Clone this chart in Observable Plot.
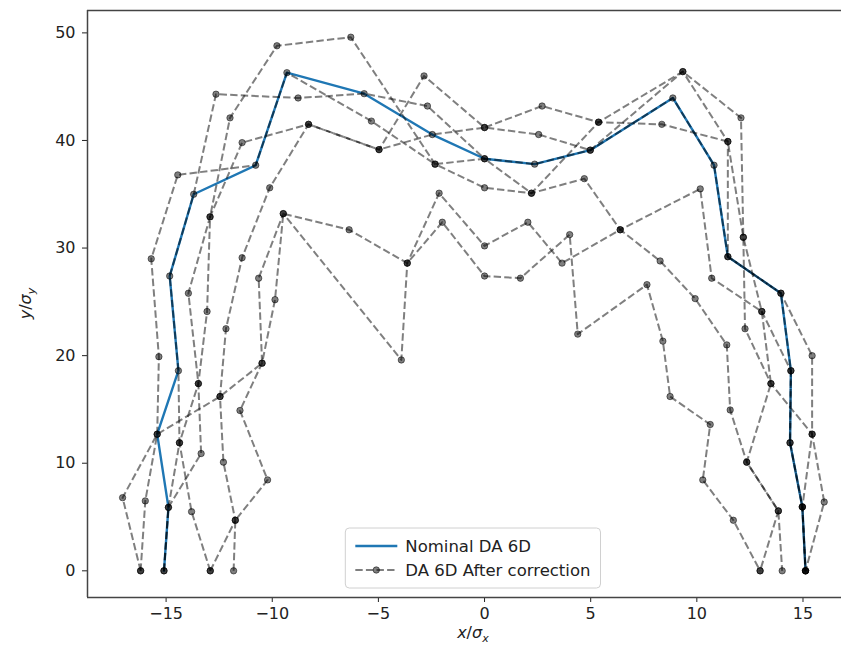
<!DOCTYPE html>
<html><head><meta charset="utf-8">
<script src="https://cdn.jsdelivr.net/npm/d3@7"></script>
<script src="https://cdn.jsdelivr.net/npm/@observablehq/plot@0.6"></script>
<style>
body{margin:0;background:#fff;}
#chart{width:841px;height:650px;}
</style></head><body><div id="chart"></div>
<script>
// ---- data ----
const xTicks = [-15, -10, -5, 0, 5, 10, 15];
const yTicks = [0, 10, 20, 30, 40, 50];
const legendLabels = ["Nominal DA 6D", "DA 6D After correction"];

const nominalX = [-15.1, -14.89, -15.42, -14.42, -14.83, -13.7, -10.78, -9.31, -5.67, -2.46, 0, 2.36, 4.98, 8.87, 10.81, 11.46, 13.96, 14.43, 14.39, 14.97, 15.12];
const nominalY = [0, 5.9, 12.7, 18.6, 27.4, 35.0, 37.7, 46.3, 44.35, 40.55, 38.3, 37.8, 39.1, 43.95, 37.7, 29.2, 25.8, 18.6, 11.9, 5.94, 0];

const corrA_x = [-16.2, -17.05, -15.42, -12.46, -10.48, -10.64, -9.48, -3.92, -3.64, -2.14, 0, 2.04, 3.65, 6.39, 8.27, 9.92, 11.41, 11.57, 12.35, 13.84, 14.02];
const corrA_y = [0, 6.8, 12.7, 16.2, 19.3, 27.2, 33.2, 19.6, 28.6, 35.1, 30.2, 32.4, 28.6, 31.7, 28.8, 25.3, 21.0, 14.95, 10.1, 5.57, 0];

const corrB_x = [-16.2, -15.98, -15.42, -15.34, -15.7, -14.45, -10.78, -9.31, -5.33, -2.33, 0, 2.21, 5.37, 9.34, 12.08, 12.19, 12.27, 13.49, 15.43, 14.97, 15.12];
const corrB_y = [0, 6.5, 12.7, 19.9, 29.0, 36.8, 37.7, 46.3, 41.8, 37.8, 38.3, 35.1, 41.7, 46.4, 42.1, 31.0, 22.5, 17.4, 12.7, 5.94, 0];

const corrC_x = [-15.1, -14.89, -14.37, -14.42, -14.83, -13.7, -12.65, -8.78, -5.67, -2.69, 0, 2.36, 4.98, 8.87, 10.81, 11.46, 13.96, 14.43, 14.39, 14.97, 15.12];
const corrC_y = [0, 5.9, 11.9, 18.6, 27.4, 35.0, 44.3, 43.95, 44.35, 43.2, 38.3, 37.8, 39.1, 43.95, 37.7, 29.2, 25.8, 18.6, 11.9, 5.94, 0];

const corrD_x = [-15.1, -14.89, -13.35, -13.48, -13.95, -12.93, -11.99, -9.78, -6.3, -2.33, 0, 2.21, 4.7, 6.39, 10.16, 10.7, 13.06, 13.49, 12.35, 13.84, 12.98];
const corrD_y = [0, 5.9, 10.9, 17.4, 25.8, 32.9, 42.1, 48.8, 49.6, 37.8, 35.6, 35.1, 36.45, 31.7, 35.5, 27.2, 24.1, 17.4, 10.1, 5.57, 0];

const corrE_x = [-12.92, -13.8, -14.37, -13.48, -13.07, -12.93, -11.42, -8.29, -4.97, -2.85, 0, 2.71, 5.37, 8.35, 11.46, 12.19, 13.06, 14.43, 14.39, 14.97, 15.12];
const corrE_y = [0, 5.5, 11.9, 17.4, 24.1, 32.9, 39.8, 41.5, 39.15, 46.0, 41.2, 43.2, 41.7, 41.5, 39.9, 31.0, 24.1, 18.6, 11.9, 5.94, 0];

const corrF_x = [-12.92, -11.74, -12.3, -12.46, -12.18, -11.42, -10.12, -8.29, -4.97, -2.46, 0, 2.55, 4.98, 9.34, 11.46, 11.46, 13.96, 15.43, 15.43, 16.0, 15.12];
const corrF_y = [0, 4.7, 10.1, 16.2, 22.5, 29.1, 35.6, 41.5, 39.15, 40.55, 41.2, 40.55, 39.1, 46.4, 39.9, 29.2, 25.8, 20.0, 12.7, 6.4, 0];

const corrG_x = [-11.82, -11.74, -10.22, -11.52, -10.48, -9.87, -9.48, -6.38, -3.64, -1.99, 0, 1.69, 4.01, 4.39, 7.65, 8.4, 8.74, 10.63, 10.28, 11.72, 12.98];
const corrG_y = [0, 4.7, 8.45, 14.9, 19.3, 25.2, 33.2, 31.7, 28.6, 32.4, 27.4, 27.2, 31.25, 22.0, 26.6, 21.35, 16.2, 13.6, 8.45, 4.7, 0];

// ---- build tables ----
const nominal = nominalX.map((x, i) => ({x, y: nominalY[i]}));
const corrSets = [[corrA_x, corrA_y], [corrB_x, corrB_y], [corrC_x, corrC_y], [corrD_x, corrD_y], [corrE_x, corrE_y], [corrF_x, corrF_y], [corrG_x, corrG_y]];
const corrected = corrSets.flatMap(([xs, ys], s) => xs.map((x, i) => ({s, x, y: ys[i]})));

// matplotlib-style 5% auto margins
const allX = nominalX.concat(...corrSets.map(d => d[0]));
const allY = nominalY.concat(...corrSets.map(d => d[1]));
const [x0, x1] = d3.extent(allX), [y0, y1] = d3.extent(allY);
const fullX = [x0 - 0.05 * (x1 - x0), x1 + 0.05 * (x1 - x0)];
const yDomain = [y0 - 0.05 * (y1 - y0), y1 + 0.05 * (y1 - y0)];

const W = 841, H = 650, mL = 87, mT = 10, mB = 53;
// the reference image is cropped on the right: plot area runs past the page edge
const fullRightPx = 858.8;
const visibleRight = fullX[0] + (fullX[1] - fullX[0]) * (W - mL) / (fullRightPx - mL);
const xDomain = [fullX[0], visibleRight];

const fmt = d => d < 0 ? "\u2212" + Math.abs(d) : String(d);
const FONT = "DejaVu Sans";

const svg = Plot.plot({
  width: W, height: H,
  marginLeft: mL, marginRight: 0, marginTop: mT, marginBottom: mB,
  style: {fontFamily: FONT, fontSize: "16px", color: "#222", background: "#fff"},
  x: {domain: xDomain, ticks: xTicks, tickFormat: fmt, tickSize: 5, tickPadding: 5, label: null},
  y: {domain: yDomain, ticks: yTicks, tickFormat: fmt, tickSize: 5, tickPadding: 7, label: null},
  marks: [
    Plot.line(nominal, {x: "x", y: "y", stroke: "#1f77b4", strokeWidth: 2.4}),
    Plot.line(corrected, {x: "x", y: "y", z: "s", stroke: "black", strokeOpacity: 0.5, strokeWidth: 2, strokeDasharray: "7.4,3.2", strokeLinejoin: "round", strokeLinecap: "butt"}),
    Plot.dot(corrected, {x: "x", y: "y", r: 3.2, fill: "black", fillOpacity: 0.5, stroke: "black", strokeOpacity: 0.5, strokeWidth: 1}),
    Plot.ruleX([xDomain[0]], {stroke: "#444", strokeWidth: 1.5}),
    Plot.ruleY([yDomain[0], yDomain[1]], {stroke: "#444", strokeWidth: 1.5})
  ]
});
document.getElementById("chart").appendChild(svg);

const sy = svg.scale("y");
const root = d3.select(svg);
const plotBottom = sy.apply(yDomain[0]), plotTop = sy.apply(yDomain[1]);
const axesCenter = (mL + fullRightPx) / 2;

// axis labels (mathtext style)
const xl = root.append("text").attr("x", axesCenter).attr("y", 638).attr("text-anchor", "middle")
  .attr("font-family", FONT).attr("font-size", 16).attr("fill", "#222");
xl.append("tspan").attr("font-style", "italic").text("x");
xl.append("tspan").text("/");
xl.append("tspan").attr("font-style", "italic").text("σ");
xl.append("tspan").attr("font-style", "italic").attr("font-size", 11).attr("dy", 4).text("x");

const yl = root.append("text").attr("transform", `translate(31,${(plotTop + plotBottom) / 2}) rotate(-90)`)
  .attr("text-anchor", "middle").attr("font-family", FONT).attr("font-size", 16).attr("fill", "#222");
yl.append("tspan").attr("font-style", "italic").text("y");
yl.append("tspan").text("/");
yl.append("tspan").attr("font-style", "italic").text("σ");
yl.append("tspan").attr("font-style", "italic").attr("font-size", 11).attr("dy", 4).text("y");

// legend (lower center)
const lg = root.append("g").attr("text-anchor", "start");
const box = lg.append("rect").attr("fill", "white").attr("fill-opacity", 0.85)
  .attr("stroke", "#d0d0d0").attr("rx", 4);
const rowH = 24, handleW = 42, pad = 10, gap = 8;
const texts = legendLabels.map((t, i) => lg.append("text").attr("x", pad + handleW + gap).attr("y", 18 + i * rowH)
  .attr("dy", "0.35em").attr("text-anchor", "start").attr("font-family", FONT).attr("font-size", 16.5).attr("fill", "#222").text(t));
const tw = d3.max(texts, t => t.node().getComputedTextLength());
const bw = pad + handleW + gap + tw + pad, bh = 18 * 2 + rowH;
box.attr("width", bw).attr("height", bh);
lg.append("line").attr("x1", pad).attr("x2", pad + handleW).attr("y1", 18).attr("y2", 18)
  .attr("stroke", "#1f77b4").attr("stroke-width", 2.4);
lg.append("line").attr("x1", pad).attr("x2", pad + handleW).attr("y1", 18 + rowH).attr("y2", 18 + rowH)
  .attr("stroke", "black").attr("stroke-opacity", 0.5).attr("stroke-width", 2).attr("stroke-dasharray", "7.4,3.2");
lg.append("circle").attr("cx", pad + handleW / 2).attr("cy", 18 + rowH).attr("r", 3.2)
  .attr("fill", "black").attr("fill-opacity", 0.5).attr("stroke", "black").attr("stroke-opacity", 0.5);
lg.attr("transform", `translate(${axesCenter - bw / 2},${plotBottom - 9 - bh})`);
</script></body></html>
